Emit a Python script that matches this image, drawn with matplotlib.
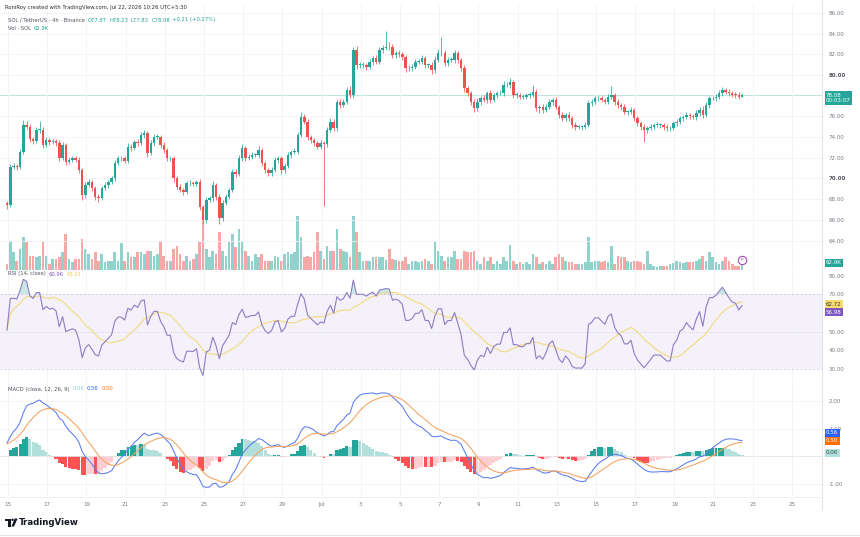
import numpy as np
import matplotlib
matplotlib.use("Agg")
import matplotlib.pyplot as plt
from matplotlib.patches import Polygon, Circle

# ---------------- data ----------------
first_open = 67.60
closes = [
    67.44, 71.14, 71.20, 71.14, 72.59, 75.17, 75.00, 73.80, 73.60, 74.69,
    74.70, 73.24, 73.72, 73.50, 73.60, 73.40, 72.00, 73.20, 71.63, 71.80,
    71.95, 71.80, 70.82, 68.41, 69.37, 69.69, 69.05, 68.24, 68.08, 69.05,
    69.37, 69.69, 70.02, 71.47, 71.95, 71.95, 71.70, 73.08, 72.95, 73.56,
    73.40, 74.20, 74.36, 72.43, 73.40, 74.04, 74.04, 73.24, 72.75, 71.95,
    71.95, 70.02, 69.21, 68.90, 68.73, 69.53, 69.53, 69.50, 69.69, 67.28,
    65.99, 67.92, 68.08, 69.37, 68.24, 66.15, 67.60, 68.24, 68.89, 70.66,
    70.40, 71.95, 72.92, 71.95, 72.10, 72.27, 72.27, 72.75, 71.47, 70.82,
    70.50, 70.82, 71.79, 71.95, 70.82, 71.20, 72.27, 72.60, 72.60, 74.20,
    75.97, 75.50, 74.04, 73.70, 73.40, 73.08, 73.40, 73.30, 74.69, 75.49,
    74.84, 77.42, 77.10, 77.42, 78.55, 78.07, 82.42, 80.97, 80.97, 80.97,
    80.80, 81.29, 81.61, 81.29, 82.42, 82.58, 82.73, 82.70, 81.93, 82.10,
    82.00, 81.77, 80.64, 80.64, 80.80, 81.29, 81.29, 81.61, 80.97, 80.97,
    80.48, 81.45, 82.09, 82.09, 81.13, 81.45, 81.45, 82.09, 81.45, 80.64,
    78.70, 78.23, 77.42, 76.78, 77.42, 77.75, 77.60, 78.23, 77.58, 78.07,
    78.23, 78.23, 79.03, 79.03, 79.36, 78.07, 78.07, 77.91, 77.91, 78.07,
    78.07, 78.39, 76.78, 76.94, 76.62, 76.94, 77.42, 77.58, 76.94, 76.14,
    75.81, 76.14, 75.81, 75.17, 75.00, 75.00, 75.00, 75.17, 77.26, 77.42,
    77.75, 77.75, 77.58, 77.42, 77.91, 78.07, 77.42, 77.10, 76.94, 76.46,
    76.46, 76.62, 75.81, 75.33, 75.00, 74.69, 74.84, 75.00, 75.17, 75.17,
    75.17, 75.00, 74.84, 74.84, 75.33, 75.49, 75.81, 75.90, 76.14, 76.00,
    75.90, 76.30, 76.62, 76.14, 77.10, 77.75, 77.75, 77.91, 78.23, 78.55,
    78.39, 78.23, 78.10, 78.07, 77.87, 78.08,
]
wick_up = [
    0.20, 0.25, 0.30, 0.20, 0.25, 0.50, 0.35, 0.25, 0.20, 0.30,
    0.90, 0.25, 0.30, 0.20, 0.25, 0.20, 0.30, 0.35, 0.20, 0.25,
    0.20, 0.25, 0.30, 0.20, 0.30, 0.25, 0.20, 0.20, 0.25, 0.20,
    0.25, 0.20, 0.20, 0.30, 0.25, 0.20, 0.25, 0.35, 0.30, 0.20,
    0.25, 0.30, 0.35, 0.20, 0.30, 0.25, 0.30, 0.20, 0.25, 0.20,
    0.25, 0.20, 0.20, 0.25, 0.20, 0.25, 0.30, 0.20, 0.20, 0.25,
    0.20, 0.30, 0.25, 0.35, 0.20, 0.25, 0.30, 0.25, 0.20, 0.30,
    0.25, 0.30, 0.40, 0.20, 0.25, 0.30, 0.20, 0.35, 0.20, 0.25,
    0.20, 0.25, 0.30, 0.25, 0.20, 0.30, 0.25, 0.20, 0.30, 0.30,
    0.45, 0.30, 0.25, 0.20, 0.25, 0.20, 0.30, 0.20, 0.30, 0.35,
    0.25, 0.30, 0.25, 0.30, 0.25, 0.35, 0.30, 0.40, 0.25, 0.30,
    0.20, 0.30, 0.25, 0.30, 0.30, 0.35, 1.50, 0.50, 0.30, 0.25,
    0.30, 0.25, 0.20, 0.35, 0.30, 0.25, 0.30, 0.30, 0.25, 0.20,
    0.30, 0.35, 0.40, 1.60, 0.30, 0.25, 0.30, 0.35, 0.25, 0.20,
    0.30, 0.25, 0.20, 0.30, 0.35, 0.25, 0.30, 0.25, 0.30, 0.20,
    0.25, 0.30, 0.35, 0.25, 0.30, 0.20, 0.25, 0.20, 0.25, 0.20,
    0.30, 0.60, 0.25, 0.20, 0.30, 0.25, 0.30, 0.20, 0.25, 0.20,
    0.25, 0.20, 0.30, 0.20, 0.25, 0.20, 0.20, 0.25, 0.30, 0.25,
    0.25, 0.20, 0.25, 0.20, 0.25, 0.90, 0.20, 0.25, 0.20, 0.25,
    0.20, 0.25, 0.20, 0.25, 0.20, 0.25, 0.20, 0.25, 0.20, 0.25,
    0.20, 0.20, 0.25, 0.20, 0.25, 0.30, 0.20, 0.25, 0.30, 0.20,
    0.25, 0.30, 0.25, 0.35, 0.30, 0.25, 0.20, 0.25, 0.30, 0.25,
    0.20, 0.25, 0.20, 0.30, 0.30, 0.15,
]
wick_dn = [
    0.40, 0.20, 0.25, 0.30, 0.20, 0.25, 0.20, 0.30, 0.25, 0.20,
    0.25, 0.30, 0.20, 0.25, 0.20, 0.25, 0.30, 0.20, 0.35, 0.20,
    0.25, 0.20, 0.30, 0.45, 0.25, 0.20, 0.25, 0.30, 0.35, 0.20,
    0.20, 0.25, 0.20, 0.25, 0.20, 0.30, 0.25, 0.20, 0.25, 0.20,
    0.25, 0.20, 0.25, 0.35, 0.20, 0.25, 0.20, 0.30, 0.25, 0.30,
    0.25, 0.35, 0.30, 0.25, 0.30, 0.20, 0.25, 0.20, 0.25, 0.30,
    0.35, 0.25, 0.20, 0.25, 0.30, 0.50, 0.25, 0.20, 0.25, 0.20,
    0.25, 0.20, 0.25, 0.30, 0.20, 0.25, 0.20, 0.25, 0.30, 0.25,
    0.30, 0.25, 0.20, 0.25, 0.35, 0.25, 0.20, 0.25, 0.20, 0.25,
    0.20, 0.25, 0.30, 0.25, 0.30, 0.25, 0.20, 6.00, 0.25, 0.20,
    0.30, 0.25, 0.30, 0.20, 0.25, 0.30, 0.25, 0.35, 0.30, 0.25,
    0.30, 0.25, 0.30, 0.25, 0.20, 0.25, 0.20, 0.30, 0.25, 0.30,
    0.25, 0.30, 0.35, 0.25, 0.30, 0.25, 0.20, 0.25, 0.30, 0.25,
    0.35, 0.25, 0.20, 0.25, 0.30, 0.25, 0.20, 0.25, 0.30, 0.25,
    0.30, 0.25, 0.30, 0.35, 0.25, 0.30, 0.25, 0.30, 0.25, 0.20,
    0.25, 0.20, 0.25, 0.20, 0.25, 0.30, 0.25, 0.20, 0.25, 0.20,
    0.25, 0.20, 0.30, 0.50, 0.25, 0.20, 0.25, 0.30, 0.25, 0.30,
    0.25, 0.30, 0.25, 0.30, 0.35, 0.25, 0.30, 0.25, 0.20, 0.25,
    0.20, 0.25, 0.20, 0.25, 0.20, 0.25, 0.30, 0.25, 0.30, 0.25,
    0.30, 0.25, 0.30, 0.25, 0.30, 1.20, 0.25, 0.20, 0.25, 0.20,
    0.25, 0.30, 0.25, 0.30, 0.20, 0.25, 0.20, 0.25, 0.20, 0.25,
    0.20, 0.25, 0.30, 0.25, 0.20, 0.25, 0.20, 0.25, 0.20, 0.25,
    0.20, 0.25, 0.20, 0.25, 0.20, 0.04,
]
volume_k = [
    60, 290, 180, 90, 210, 330, 280, 140, 140, 130,
    140, 280, 140, 60, 110, 110, 130, 180, 360, 110,
    80, 110, 110, 310, 210, 160, 110, 180, 90, 160,
    80, 90, 90, 180, 90, 270, 90, 180, 130, 130,
    180, 180, 160, 190, 190, 140, 160, 290, 140, 90,
    90, 210, 240, 160, 90, 140, 90, 110, 160, 280,
    560, 210, 130, 190, 160, 380, 190, 140, 280, 360,
    230, 410, 290, 190, 140, 90, 160, 130, 160, 90,
    90, 90, 140, 130, 90, 160, 180, 160, 180, 540,
    330, 130, 140, 130, 180, 380, 190, 110, 240, 190,
    190, 410, 210, 190, 180, 130, 540, 380, 180, 90,
    90, 90, 130, 130, 130, 130, 100, 210, 110, 100,
    90, 90, 130, 60, 90, 90, 80, 90, 110, 90,
    60, 290, 190, 140, 90, 130, 130, 190, 110, 110,
    190, 180, 180, 190, 90, 60, 130, 90, 130, 60,
    90, 60, 130, 90, 250, 90, 60, 80, 60, 80,
    60, 160, 130, 60, 80, 60, 90, 60, 130, 160,
    130, 90, 80, 80, 60, 60, 60, 80, 330, 80,
    90, 90, 80, 90, 80, 240, 60, 140, 130, 130,
    90, 80, 90, 90, 80, 60, 190, 60, 40, 30,
    40, 40, 40, 60, 70, 90, 80, 70, 80, 80,
    80, 90, 110, 140, 90, 180, 130, 80, 60, 90,
    130, 90, 60, 40, 40, 62.9,
]
first_bar_day = -0.05          # days after Jun 15 00:00
bars_per_day = 6               # 4h candles
date_ticks = [0, 2, 4, 6, 8, 10, 12, 14, 16, 18, 20, 22, 24, 26, 28, 30, 32, 34, 36, 38, 40]
date_labels = ["15", "17", "19", "21", "23", "25", "27", "29", "Jul", "3", "5",
               "7", "9", "11", "13", "15", "17", "19", "21", "23", "25"]
price_ticks = [64, 66, 68, 70, 72, 74, 76, 80, 82, 84, 86]
rsi_ticks = [80, 70, 50, 40, 30]
macd_ticks = [2, 1, -1]
# indicator state carried in from before the visible window
rsi_seed_gain, rsi_seed_loss = 0.28, 0.27
ema_fast_seed, ema_slow_seed, signal_seed = 67.75, 67.20, 0.45

# ---------------- indicators ----------------
c = np.array(closes, float)
n = len(c)
o = np.r_[first_open, c[:-1]]
t = first_bar_day + np.arange(n) / bars_per_day

ag, al = rsi_seed_gain, rsi_seed_loss
rsi = []
for i in range(n):
    if i > 0:
        d = c[i] - c[i - 1]
        ag = (ag * 13 + max(d, 0)) / 14
        al = (al * 13 + max(-d, 0)) / 14
    rsi.append(100 - 100 / (1 + ag / al))
rsi = np.array(rsi)
rsi_ma = np.array([rsi[max(0, i - 13):i + 1].mean() for i in range(n)])


def ema(vals, span, seed):
    a = 2 / (span + 1)
    e = seed
    out = []
    for v in vals:
        e = e + a * (v - e)
        out.append(e)
    return np.array(out)


macd = ema(c, 12, ema_fast_seed) - ema(c, 26, ema_slow_seed)
signal = ema(macd, 9, signal_seed)
hist = macd - signal

# ---------------- figure ----------------
W, H = 860, 537
fig = plt.figure(figsize=(W / 100, H / 100), dpi=100)
fig.patch.set_facecolor("white")
GREEN, RED = "#26a69a", "#ef5350"
GRID = "#f2f3f6"
TXT = "#787b86"
FS = 4.0
HFS = 3.75


def rect(top, bottom, left=0, right=822):
    return [left / W, 1 - bottom / H, (right - left) / W, (bottom - top) / H]


xlim = (-8 / 19.6, 814 / 19.6)

axv = fig.add_axes(rect(5, 270))
ax = fig.add_axes(rect(5, 270), sharex=axv)
axr = fig.add_axes(rect(271, 383), sharex=axv)
axm = fig.add_axes(rect(384, 496), sharex=axv)
ax.patch.set_alpha(0)

for a in (axv, ax, axr, axm):
    for s in a.spines.values():
        s.set_visible(False)
    a.set_xlim(*xlim)
    a.set_xticks(date_ticks)
    a.tick_params(axis="both", length=0, labelsize=FS, labelcolor=TXT)
    a.tick_params(axis="x", labelbottom=False)
    a.grid(True, axis="x", color=GRID, lw=0.6)

# volume
axv.set_ylim(0, 2650)
axv.set_yticks([])
axv.grid(False)
vcol = np.where(c >= o, "#26a69a80", "#ef535080")
axv.bar(t, volume_k, width=0.135, color=vcol, lw=0)

# candles
ax.set_ylim(61.16, 86.76)
ccol = np.where(c >= o, GREEN, RED)
hi = np.maximum(o, c) + np.array(wick_up)
lo = np.minimum(o, c) - np.array(wick_dn)
ax.vlines(t, lo, hi, colors=ccol, lw=0.55, zorder=3)
body = np.maximum(np.abs(c - o), 0.05)
ax.bar(t, body, bottom=np.minimum(o, c), width=0.125, color=ccol, lw=0, zorder=4)
ax.axhline(c[-1], color="#26a69a", lw=0.6, alpha=0.35, zorder=1)
ax.yaxis.tick_right()
ax.set_yticks(price_ticks)
ax.set_yticklabels([f"{v:.2f}" for v in price_ticks])
for lab in ax.get_yticklabels():
    if lab.get_text() in ("70.00", "80.00"):
        lab.set_fontweight("bold")
        lab.set_color("#50535e")
ax.tick_params(axis="y", pad=5)
ax.grid(True, axis="y", color=GRID, lw=0.6)
ax.plot([t[-1]], [0.038], marker="o", ms=6, mfc="white", mec="#ab47bc", mew=0.8,
        transform=ax.get_xaxis_transform(), clip_on=False, zorder=6)
ax.text(t[-1], 0.038, "P", transform=ax.get_xaxis_transform(), fontsize=3.2,
        color="#ab47bc", ha="center", va="center", zorder=7)

# RSI
axr.set_ylim(22.43, 82.43)
axr.axhspan(30, 70, color="#7e57c2", alpha=0.08, lw=0)
for lv, ls in ((70, (0, (3, 3))), (50, (0, (1, 2))), (30, (0, (3, 3)))):
    axr.axhline(lv, color="#c5c0d6", lw=0.5, ls=ls)
axr.fill_between(t, 70, rsi, where=rsi > 70, interpolate=True, color="#26a69a", alpha=0.25, lw=0)
axr.plot(t, rsi_ma, color="#f3dc8a", lw=0.9)
axr.plot(t, rsi, color="#8e7cc3", lw=0.8)
axr.yaxis.tick_right()
axr.set_yticks(rsi_ticks)
axr.set_yticklabels([f"{v:.2f}" for v in rsi_ticks])
axr.tick_params(axis="y", pad=5)

# MACD
axm.set_ylim(-1.446, 2.637)
axm.axhline(0, color="#e3e5ea", lw=0.6)
hcol = []
for i in range(n):
    prev = hist[i - 1] if i > 0 else 0
    if hist[i] >= 0:
        hcol.append("#26a69a" if hist[i] > prev else "#b2dfdb")
    else:
        hcol.append("#ff5252" if hist[i] < prev else "#ffcdd2")
axm.bar(t, hist, width=0.16, color=hcol, lw=0)
axm.plot(t, macd, color="#5b7cf0", lw=0.75)
axm.plot(t, signal, color="#f5a25d", lw=0.75)
axm.yaxis.tick_right()
axm.set_yticks(macd_ticks)
axm.set_yticklabels([f"{v:.2f}" for v in macd_ticks])
axm.tick_params(axis="y", pad=5)
axm.grid(True, axis="y", color=GRID, lw=0.6)
axm.tick_params(axis="x", labelbottom=True, pad=4)
axm.set_xticklabels(date_labels)

# separators
fig.add_artist(plt.Line2D([822 / W, 822 / W], [1 - 510 / H, 1], color="#e0e3eb", lw=0.8))
fig.add_artist(plt.Line2D([0, 822 / W], [1 - 497 / H, 1 - 497 / H], color="#eceef2", lw=0.6))
fig.add_artist(plt.Line2D([0, 1], [1 - 535 / H, 1 - 535 / H], color="#e0e3eb", lw=0.8))


def fx(x):
    return x / W


def fy(y):
    return 1 - y / H


def label(x, y, s, fc, tc="white", size=FS):
    fig.text(fx(x), fy(y), s, fontsize=size, color=tc, ha="left", va="center",
             linespacing=1.1,
             bbox=dict(boxstyle="square,pad=0.25", fc=fc, ec="none"))


label(826, 98, "78.08\n00:03:07", GREEN)
label(826, 263, "62.9K", GREEN)
label(826, 304, "62.72", "#f7dc6f", tc="#333333")
label(826, 312, "56.98", "#7e57c2")
label(826, 433, "0.56", "#2962ff")
label(826, 441, "0.50", "#ff6d00")
label(826, 453, "0.06", "#b2dfdb", tc="#2c4f4a")

renderer = fig.canvas.get_renderer()


def seg(x, y, parts, size=HFS):
    for s, col, gap in parts:
        tt = fig.text(fx(x), fy(y), s, fontsize=size, color=col, ha="left", va="center")
        x += tt.get_window_extent(renderer=renderer).width + gap


seg(5, 8, [("RoniRoy created with TradingView.com, Jul 22, 2026 10:26 UTC+5:30", "#2a2e39", 0)])
seg(8, 20, [("SOL / TetherUS · 4h · Binance", "#50535e", 3),
            ("O77.87", GREEN, 2.5), ("H78.23", GREEN, 2.5), ("L77.83", GREEN, 2.5),
            ("C78.08", GREEN, 2.5), ("+0.21 (+0.27%)", GREEN, 0)])
seg(8, 29, [("Vol · SOL", "#50535e", 3), ("62.9K", GREEN, 0)])
seg(8, 274, [("RSI (14, close)", "#50535e", 3), ("60.96", "#7e57c2", 2.5), ("63.21", "#f2c94c", 0)])
seg(8, 389, [("MACD (close, 12, 26, 9)", "#50535e", 3), ("0.06", "#8fd3c9", 2.5),
             ("0.56", "#2962ff", 2.5), ("0.50", "#ff6d00", 0)])

# TradingView logo
axl = fig.add_axes([0, 0, 1, 1])
axl.set_xlim(0, W)
axl.set_ylim(H, 0)
axl.axis("off")
axl.patch.set_alpha(0)
axl.add_patch(Polygon([[5, 518.5], [10.5, 518.5], [10.5, 526.5], [8.3, 526.5], [8.3, 520.7], [5, 520.7]],
                      closed=True, fc="#131722", ec="none"))
axl.add_patch(Circle((12.6, 519.8), 1.2, fc="#131722", ec="none"))
axl.add_patch(Polygon([[14.8, 518.5], [17.6, 518.5], [14.0, 526.5], [11.4, 526.5]], closed=True,
                      fc="#131722", ec="none"))
axl.text(19, 522.5, "TradingView", fontsize=6.2, fontweight="bold", color="#131722",
         ha="left", va="center")

fig.savefig("out.png", dpi=100, facecolor="white")
